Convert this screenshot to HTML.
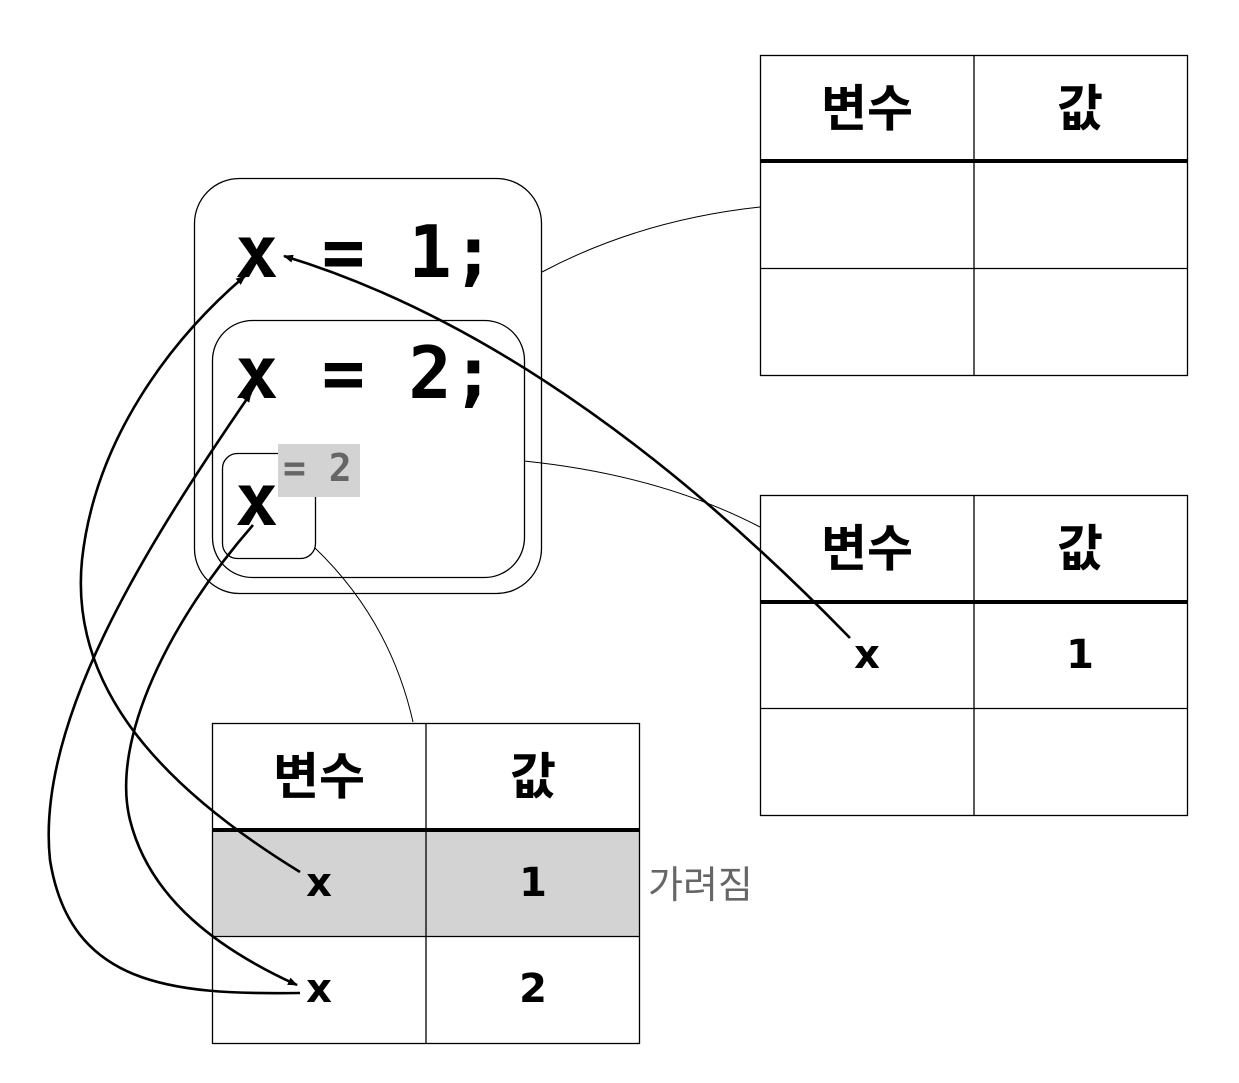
<!DOCTYPE html>
<html><head><meta charset="utf-8"><style>html,body{margin:0;padding:0;background:#fff}svg{display:block}</style></head>
<body>
<svg width="1239" height="1083" viewBox="0 0 1239 1083" xmlns="http://www.w3.org/2000/svg">
<defs>
<marker id="ah" markerWidth="10" markerHeight="8" refX="9" refY="4" orient="auto" markerUnits="userSpaceOnUse">
<path d="M0,0 L10,4 L0,8 z" fill="#000"/></marker>
</defs>
<g fill="none" stroke="#000" stroke-width="1.3">
<rect x="194.5" y="178.5" width="347" height="415" rx="45"/>
<rect x="212.5" y="320.5" width="312" height="257" rx="40"/>
<rect x="222.5" y="453.5" width="93" height="105" rx="15"/>
</g>
<rect x="278" y="444" width="82" height="53" fill="#d3d3d3"/>
<g font-family="'DejaVu Sans Mono','Liberation Mono',monospace" font-weight="bold" font-size="72" fill="#000">
<text x="235" y="277">x = 1;</text>
<text x="235" y="398">x = 2;</text>
<text x="235" y="525">x</text>
</g>
<text x="283" y="481" font-family="'DejaVu Sans Mono','Liberation Mono',monospace" font-weight="bold" font-size="38" fill="#666">= 2</text>
<g stroke="#000" fill="none" stroke-width="1.3">
<rect x="760.5" y="55.5" width="427" height="320"/>
<line x1="974" y1="55" x2="974" y2="375"/>
<line x1="760" y1="268.5" x2="1187" y2="268.5"/>
<rect x="760.5" y="495.5" width="427" height="320"/>
<line x1="974" y1="495" x2="974" y2="815"/>
<line x1="760" y1="708.5" x2="1187" y2="708.5"/>
</g>
<rect x="212" y="830" width="427" height="106" fill="#d3d3d3"/>
<g stroke="#000" fill="none" stroke-width="1.3">
<rect x="212.5" y="723.5" width="427" height="320"/>
<line x1="426" y1="723" x2="426" y2="1043"/>
<line x1="212" y1="936.5" x2="639" y2="936.5"/>
</g>
<g stroke="#000" stroke-width="4">
<line x1="760" y1="161" x2="1187" y2="161"/>
<line x1="760" y1="602" x2="1187" y2="602"/>
<line x1="212" y1="830" x2="639" y2="830"/>
</g>
<g font-family="'Liberation Sans','Noto Sans CJK KR',sans-serif" font-weight="bold" font-size="50" text-anchor="middle" fill="#000">
<text x="867" y="126">변수</text><text x="1080" y="126">값</text>
<text x="867" y="566">변수</text><text x="1080" y="566">값</text>
<text x="319" y="794">변수</text><text x="533" y="794">값</text>
</g>
<g font-family="'DejaVu Sans','Liberation Sans',sans-serif" font-weight="bold" font-size="40" text-anchor="middle" fill="#000">
<text x="867" y="668">x</text><text x="1080" y="668">1</text>
<text x="319" y="896">x</text><text x="533" y="896">1</text>
<text x="319" y="1002">x</text><text x="533" y="1002">2</text>
</g>
<text x="648" y="898" font-family="'Liberation Sans','Noto Sans CJK KR',sans-serif" font-size="38" fill="#666">가려짐</text>
<g fill="none" stroke="#000" stroke-width="1">
<path d="M542,272 Q640,220 760,207"/>
<path d="M524,461 Q660,475 760,527"/>
<path d="M315,548 Q390,620 413,722"/>
</g>
<g fill="none" stroke="#000" stroke-width="2.6">
<path d="M850,638 Q560,340 284,256" marker-end="url(#ah)"/>
<path d="M300,872 C150,780 70,680 82,560 C95,440 170,340 245,276" marker-end="url(#ah)"/>
<path d="M300,993 C170,995 70,985 50,860 C35,720 150,540 251,393" marker-end="url(#ah)"/>
<path d="M253,525 C170,620 110,740 130,820 C150,900 220,950 297,985" marker-end="url(#ah)"/>
</g>
</svg>
</body></html>
